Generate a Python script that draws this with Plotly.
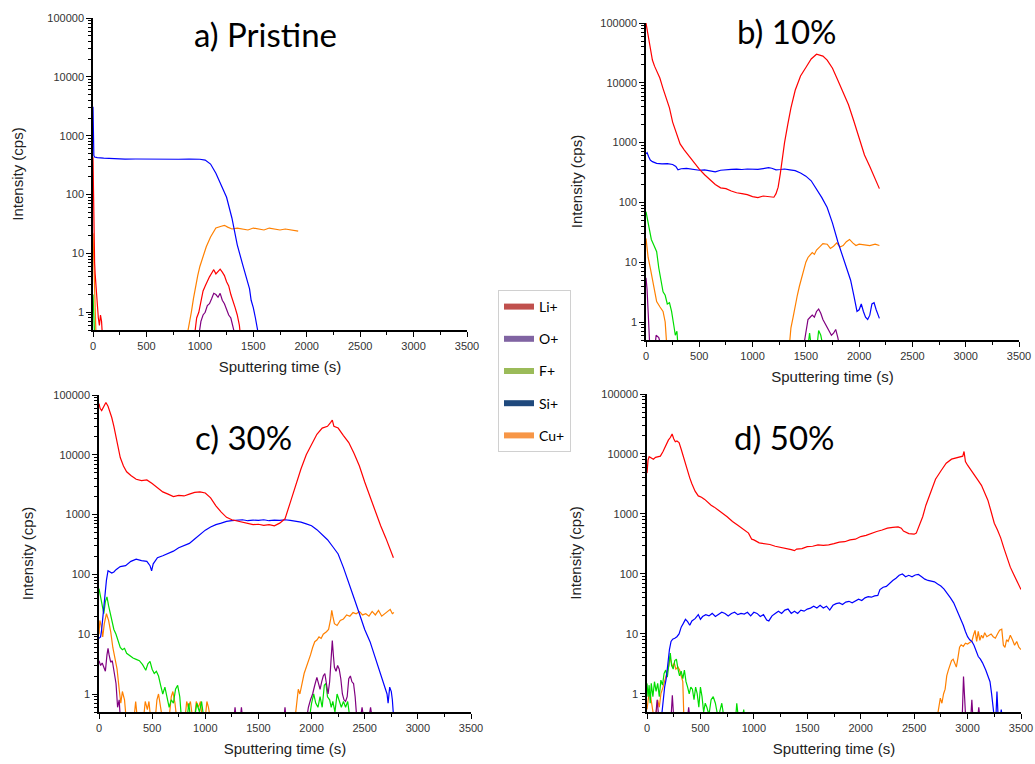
import plotly.graph_objects as go

N = None
# ---------------- Panel a) Pristine ----------------
A_SI_T = [0, 3, 8, 15, 40, 100, 200, 300, 400, 500, 600, 700, 800, 900, 1000, 1050, 1100, 1150, 1200, 1250, 1300, 1350, 1400, 1440, 1465, 1480, 1500, 1520, 1540, 1550]
A_SI_V = [3100, 1200, 460, 435, 425, 415, 405, 400, 402, 398, 400, 396, 398, 400, 398, 385, 330, 230, 140, 90, 40, 14, 6.5, 3.8, 2.5, 1.6, 1.2, 0.8, 0.55, 0.4]
A_CU_T = [0, 5, 12, 20, 28, N, 880, 900, 920, 940, 960, 980, 1000, 1030, 1060, 1100, 1150, 1200, 1230, 1260, 1300, 1350, 1400, 1450, 1500, 1550, 1600, 1650, 1700, 1750, 1800, 1850, 1900, 1920]
A_CU_V = [22, 12, 3, 1.0, 0.4, N, 0.4, 0.6, 1.0, 1.7, 2.8, 4.2, 6, 9, 13, 19, 27, 29, 30, 28, 26, 27, 26, 25, 27, 26, 25, 27, 26, 25, 26, 25, 24, 24]
A_LI_T = [0, 2, 5, 10, 15, 20, 30, 40, 50, 60, 70, 80, 88, N, 950, 970, 990, 1010, 1030, 1050, 1070, 1090, 1110, 1130, 1150, 1170, 1190, 1210, 1230, 1250, 1270, 1290, 1310, 1330, 1350, 1370, 1380]
A_LI_V = [430, 200, 60, 15, 7, 4.5, 2.5, 1.2, 0.8, 0.6, 0.9, 0.7, 0.4, N, 0.4, 0.8, 1.0, 1.5, 2.3, 2.8, 3.4, 4.0, 4.6, 5.3, 4.5, 5.0, 5.4, 4.8, 4.2, 3.3, 2.8, 2.0, 1.6, 1.2, 0.9, 0.6, 0.4]
A_O_T = [990, 1010, 1030, 1050, 1070, 1090, 1110, 1130, 1150, 1170, 1190, 1210, 1230, 1250, 1270, 1290, 1310, 1330]
A_O_V = [0.4, 0.7, 0.9, 1.0, 1.3, 1.4, 1.7, 2.1, 2.0, 1.8, 2.1, 1.6, 1.4, 1.1, 0.9, 0.8, 0.6, 0.4]
A_F_T = [0, 5, 10, 15]
A_F_V = [2.0, 1.1, 0.7, 0.4]

# ---------------- Panel b) 10% ----------------
B_LI_T = [0, 15, 30, 45, 60, 80, 100, 130, 160, 190, 220, 250, 280, 320, 360, 400, 450, 500, 550, 600, 650, 700, 750, 800, 850, 900, 950, 1000, 1050, 1100, 1150, 1200, 1220, 1240, 1260, 1280, 1300, 1330, 1360, 1400, 1450, 1500, 1550, 1600, 1630, 1660, 1700, 1750, 1800, 1850, 1900, 1950, 2000, 2050, 2100, 2150, 2190]
B_LI_V = [100000, 70000, 45000, 30000, 24000, 19000, 16000, 12000, 8000, 5500, 3800, 2200, 1500, 950, 750, 600, 470, 360, 290, 240, 200, 175, 170, 155, 145, 140, 135, 125, 120, 128, 125, 122, 140, 180, 300, 550, 1000, 2000, 3800, 7500, 13000, 18000, 25000, 30000, 29000, 28000, 24000, 17500, 11000, 7000, 4300, 2300, 1200, 620, 400, 240, 170]
B_SI_T = [0, 10, 25, 40, 60, 100, 150, 200, 250, 280, 300, 330, 380, 450, 500, 550, 600, 650, 700, 750, 800, 850, 900, 950, 1000, 1050, 1100, 1150, 1180, 1220, 1260, 1300, 1350, 1400, 1450, 1500, 1550, 1600, 1650, 1700, 1750, 1800, 1850, 1880, 1920, 1950, 1980, 2000, 2020, 2040, 2060, 2080, 2100, 2120, 2140, 2160, 2180, 2190]
B_SI_V = [650, 680, 580, 510, 480, 450, 440, 445, 430, 400, 350, 365, 370, 355, 345, 350, 335, 325, 345, 355, 358, 360, 355, 362, 360, 358, 368, 380, 372, 350, 355, 362, 350, 340, 310, 275, 230, 170, 120, 82, 45, 22, 12, 8, 5, 2.8, 1.5, 1.6, 2.0, 1.5, 1.2, 1.1, 1.3, 2.0, 2.1, 1.6, 1.2, 1.15]
B_CU_T = [0, 10, 20, 40, 60, 80, 100, 130, 160, 180, 195, N, 1345, 1360, 1380, 1400, 1420, 1440, 1460, 1480, 1500, 1520, 1540, 1560, 1580, 1600, 1630, 1660, 1700, 1730, 1760, 1790, 1820, 1850, 1880, 1910, 1940, 1970, 2000, 2050, 2100, 2150, 2190]
B_CU_V = [25, 18, 12, 8, 5, 3, 2.2, 1.8, 1.5, 1.0, 0.4, N, 0.4, 0.8, 1.2, 2.0, 2.8, 4, 5.5, 7, 10, 12, 13, 14.5, 13.5, 16, 18, 20.5, 20, 17, 18.5, 21, 18, 19, 22, 24, 21, 19, 20, 19.5, 19, 20, 19]
B_F_T = [0, 15, 30, 50, 75, 100, 120, 140, 160, 180, 200, 220, 240, 260, 275, 290, 300, N, 1520, 1535, 1550, N, 1605, 1620, 1640, 1660]
B_F_V = [70, 50, 35, 24, 19, 15, 8, 5, 3.2, 2.8, 2.0, 2.1, 1.5, 0.9, 0.6, 0.7, 0.4, N, 0.4, 0.65, 0.4, N, 0.4, 0.72, 0.6, 0.4]
B_O_T = [0, 10, 20, 35, N, 85, 95, 120, 140, N, 1480, 1500, 1520, 1540, 1560, 1580, 1600, 1620, 1640, 1660, 1680, 1700, 1720, 1740, 1760, 1780, 1800, 1815]
B_O_V = [5.5, 3.5, 1.5, 0.4, N, 0.4, 0.6, 0.55, 0.4, N, 0.4, 0.7, 1.1, 1.2, 1.3, 1.2, 1.5, 1.65, 1.4, 1.1, 0.95, 0.8, 0.7, 0.6, 0.65, 0.75, 0.55, 0.4]

# ---------------- Panel c) 30% ----------------
C_LI_T = [0, 10, 25, 45, 65, 85, 100, 120, 140, 160, 180, 200, 230, 260, 300, 350, 400, 450, 500, 550, 600, 650, 700, 750, 800, 850, 900, 950, 1000, 1050, 1100, 1150, 1200, 1250, 1300, 1350, 1400, 1450, 1500, 1550, 1600, 1650, 1700, 1750, 1800, 1850, 1900, 1950, 2000, 2050, 2100, 2150, 2180, 2195, 2210, 2250, 2300, 2350, 2400, 2450, 2500, 2550, 2600, 2650, 2700, 2740, 2770]
C_LI_V = [72000, 60000, 55000, 65000, 75000, 65000, 55000, 42000, 30000, 20000, 13000, 9000, 6500, 5200, 4500, 3900, 3700, 3800, 3300, 2800, 2400, 2200, 2000, 2100, 2050, 2200, 2350, 2400, 2300, 1900, 1400, 1100, 900, 820, 780, 740, 700, 680, 690, 660, 680, 650, 720, 850, 1600, 3200, 5800, 10000, 15000, 22000, 28000, 30000, 35000, 38000, 30000, 28000, 21000, 16000, 10500, 6500, 3500, 2000, 1100, 650, 400, 260, 190]
C_SI_T = [0, 15, 25, 40, 55, 70, 85, 100, 120, 140, 160, 200, 250, 300, 350, 400, 450, 480, 495, 510, 550, 600, 650, 700, 750, 800, 850, 900, 950, 1000, 1050, 1100, 1150, 1200, 1250, 1300, 1350, 1400, 1450, 1500, 1550, 1600, 1650, 1700, 1750, 1800, 1850, 1900, 1950, 2000, 2050, 2100, 2150, 2200, 2250, 2300, 2350, 2400, 2450, 2500, 2550, 2600, 2630, 2660, 2690, 2710, 2720, 2735, 2750, 2760, 2770]
C_SI_V = [8.5, 9, 12, 25, 45, 80, 115, 112, 105, 110, 120, 135, 140, 165, 180, 170, 165, 140, 115, 150, 190, 205, 225, 245, 280, 300, 330, 390, 460, 550, 620, 680, 720, 770, 790, 800, 820, 790, 810, 800, 820, 790, 810, 800, 820, 800, 780, 750, 700, 650, 560, 470, 380, 290, 220, 130, 75, 40, 22, 12, 7.5, 4, 2.8, 1.8, 1.3, 1.0, 0.7, 1.3, 1.1, 0.8, 0.45]
C_CU_T = [0, 8, 20, 35, 50, 70, 90, 110, 130, 150, 170, 190, 205, 220, 240, 255, N, 330, 345, 360, N, 420, 435, 455, 470, 485, N, 530, 545, 560, 575, 595, N, 660, 680, 695, 715, 730, N, 810, 825, 840, 860, 880, N, 900, 915, 935, 955, 970, N, 1000, 1015, 1030, 1045, N, 1845, 1860, 1875, 1890, 1910, 1930, 1950, 1970, 1990, 2010, 2030, 2050, 2070, 2090, 2110, 2140, 2160, 2180, 2190, 2200, 2215, 2240, 2270, 2300, 2330, 2360, 2390, 2420, 2450, 2480, 2510, 2540, 2570, 2600, 2630, 2660, 2690, 2720, 2740, 2760, 2775]
C_CU_V = [10, 17, 14, 9, 15, 22, 17, 11, 6, 4, 2.6, 1.2, 0.7, 1.1, 0.8, 0.4, N, 0.4, 0.75, 0.4, N, 0.4, 0.75, 0.55, 0.75, 0.4, N, 0.4, 0.8, 1.0, 0.6, 0.4, N, 0.4, 0.9, 1.1, 0.7, 0.4, N, 0.4, 0.75, 0.6, 0.75, 0.4, N, 0.4, 0.75, 0.6, 0.75, 0.4, N, 0.4, 0.75, 0.6, 0.4, N, 0.4, 0.8, 1.2, 1.0, 1.5, 2.2, 2.8, 3.5, 4.5, 6, 7.5, 8, 9, 8.5, 10, 11, 12, 18, 25, 20, 15, 14, 17, 18, 21, 20, 23, 22, 24, 21, 22, 20, 24, 21, 25, 20, 22, 24, 26, 22, 23]
C_F_T = [0, 15, 30, 45, 60, 75, 90, 105, 120, 140, 160, 180, 200, 220, 240, 260, 290, 320, 350, 380, 410, 440, 460, 480, 500, 520, 540, 560, 580, 600, 620, 640, 660, 680, 700, 720, 740, 760, 775, N, 830, 845, 860, N, 900, 920, 945, 965, 985, N, 1980, 2000, 2020, 2040, 2060, 2080, 2100, 2120, 2135, 2150, 2170, 2185, 2200, 2220, 2240, 2260, 2280, 2300, 2320, 2340, 2360]
C_F_V = [58, 40, 28, 22, 35, 42, 30, 22, 17, 12, 10, 8, 6, 5.5, 5.8, 4.8, 4.4, 4, 3.8, 3.6, 3.1, 2.5, 3.2, 3.5, 2.6, 2.2, 2.4, 2.0, 1.4, 1.0, 1.3, 0.9, 0.6, 0.8, 0.7, 1.2, 1.4, 0.9, 0.4, N, 0.4, 0.7, 0.4, N, 0.4, 0.7, 0.5, 0.75, 0.4, N, 0.4, 0.7, 1.0, 0.7, 0.6, 0.9, 0.6, 1.4, 1.5, 0.9, 0.8, 0.6, 0.75, 0.5, 1.0, 0.8, 0.6, 0.75, 0.6, 0.75, 0.4]
C_O_T = [0, 15, 30, 45, 60, 75, 85, 95, 110, 125, 140, 160, 175, 190, 200, N, 1270, 1280, 1290, N, 1330, 1340, 1350, N, 1740, 1750, 1760, N, 1955, 1970, 1990, 2010, 2030, 2050, 2065, 2080, 2095, 2110, 2125, 2140, 2155, 2170, 2185, 2195, 2205, 2215, 2230, 2245, 2260, 2275, 2290, 2305, 2320, 2335, 2350, 2365, 2380, 2395, 2410, 2425, N, 2460, 2475, 2490, N, 2540, 2555, 2570]
C_O_V = [3.6, 3.0, 3.3, 2.8, 2.4, 4.5, 5.8, 4.5, 3.4, 3.6, 2.5, 1.5, 0.6, 0.8, 0.4, N, 0.4, 0.6, 0.4, N, 0.4, 0.6, 0.4, N, 0.4, 0.6, 0.4, N, 0.4, 0.6, 0.8, 1.0, 1.4, 1.9, 1.5, 1.2, 1.6, 2.0, 2.2, 1.6, 1.0, 1.6, 4, 7.8, 4.5, 2.8, 2.4, 3.0, 2.6, 1.8, 1.0, 0.8, 0.75, 0.9, 1.8, 2.0, 1.6, 1.5, 0.9, 0.4, N, 0.4, 0.6, 0.4, N, 0.4, 0.6, 0.4]

# ---------------- Panel d) 50% ----------------
D_LI_T = [0, 10, 20, 40, 60, 80, 100, 125, 150, 175, 200, 220, 235, 250, 265, 280, 300, 320, 340, 360, 380, 400, 420, 450, 480, 510, 540, 570, 600, 630, 660, 700, 750, 800, 850, 900, 950, 980, 1000, 1050, 1100, 1150, 1200, 1250, 1300, 1350, 1380, 1400, 1450, 1500, 1550, 1600, 1650, 1700, 1750, 1800, 1850, 1900, 1950, 2000, 2050, 2100, 2150, 2200, 2250, 2300, 2350, 2380, 2400, 2450, 2500, 2520, 2550, 2580, 2610, 2650, 2700, 2750, 2800, 2850, 2900, 2930, 2955, 2967, 2980, 3000, 3030, 3060, 3100, 3130, 3160, 3190, 3220, 3250, 3280, 3310, 3340, 3370, 3400, 3430, 3460, 3500]
D_LI_V = [4800, 8000, 9000, 8600, 8200, 8800, 9000, 9200, 11000, 14000, 17000, 19000, 21500, 18000, 16000, 16500, 15500, 12000, 9000, 6800, 5000, 4000, 3200, 2400, 2000, 1900, 1750, 1550, 1400, 1300, 1200, 1050, 900, 750, 650, 560, 480, 380, 370, 330, 320, 310, 290, 280, 270, 255, 245, 260, 265, 285, 290, 305, 300, 305, 320, 340, 345, 370, 380, 420, 440, 480, 510, 540, 580, 600, 610, 580, 520, 470, 460, 480, 650, 900, 1400, 2200, 3800, 5200, 7000, 8200, 8600, 8800, 9200, 11000, 7500, 6500, 5500, 4600, 3600, 3000, 2300, 1700, 1100, 700, 540, 400, 270, 185, 130, 100, 75, 55]
D_SI_T = [135, 150, 165, 180, 195, 210, 225, 240, 260, 280, 300, 320, 340, 360, 380, 400, 420, 450, 480, 500, 520, 550, 580, 610, 640, 670, 700, 730, 760, 790, 820, 850, 880, 910, 940, 970, 1000, 1030, 1060, 1090, 1120, 1140, 1170, 1200, 1230, 1260, 1290, 1320, 1350, 1380, 1410, 1440, 1470, 1500, 1530, 1560, 1590, 1620, 1650, 1680, 1710, 1740, 1770, 1800, 1830, 1860, 1890, 1920, 1950, 1980, 2010, 2040, 2070, 2100, 2130, 2160, 2180, 2210, 2240, 2270, 2300, 2330, 2360, 2390, 2420, 2450, 2480, 2510, 2540, 2570, 2600, 2630, 2660, 2690, 2720, 2750, 2780, 2810, 2840, 2870, 2900, 2930, 2960, 2980, 3000, 3020, 3040, 3060, 3080, 3100, 3120, 3140, 3170, 3190, 3210, 3225, 3240, 3250, N, 3265, 3275, 3285, N, 3305, 3315, 3325]
D_SI_V = [0.4, 0.8, 1.3, 1.8, 3.5, 5.5, 7.5, 8.2, 8.5, 9, 10, 13, 15, 17.5, 16, 14, 16.5, 18, 21, 17.5, 19.5, 21, 20, 22, 19.5, 21, 23, 22, 20, 22, 23, 21, 22, 21.5, 23, 20, 23, 22, 19.5, 21, 17, 16.5, 20, 22, 24, 22, 25, 26, 22, 24, 22, 25, 24, 26, 27, 29, 27, 30, 27, 29, 25, 30, 32, 33, 31, 34, 35, 33, 36, 38, 36, 40, 42, 41, 43, 44, 55, 60, 62, 70, 78, 85, 95, 100, 90, 95, 90, 96, 98, 90, 82, 78, 77, 74, 68, 63, 56, 48, 40, 33, 25, 19, 14, 11, 9, 8, 7.5, 6.5, 5, 4.2, 3.8, 3.3, 2.5, 2.0, 1.6, 1.0, 0.65, 0.4, N, 0.4, 1.1, 0.45, N, 0.4, 0.55, 0.4]
D_CU_T = [0, 15, 30, 45, 60, 80, 100, 115, 130, 150, 170, 190, 205, 212, 225, 240, 255, 270, 290, 305, 320, 335, 345, N, 2715, 2730, 2745, 2760, 2775, 2790, 2805, 2820, 2835, 2850, 2865, 2880, 2895, 2910, 2925, 2940, 2960, 2980, 3000, 3020, 3040, 3055, 3070, 3085, 3100, 3115, 3130, 3145, 3160, 3180, 3200, 3220, 3240, 3260, 3280, 3300, 3320, 3335, 3350, 3365, 3380, 3400, 3420, 3440, 3460, 3480, 3500]
D_CU_V = [0.55, 0.9, 1.0, 0.7, 0.45, 0.4, 0.8, 0.6, 1.0, 1.3, 1.8, 2.4, 3.0, 4.2, 3.5, 2.8, 3.3, 2.6, 2.8, 2.5, 2.0, 1.6, 0.4, N, 0.4, 0.55, 0.85, 0.7, 1.0, 1.2, 2.0, 2.5, 3.0, 3.6, 3.8, 3.2, 2.8, 4.0, 6.0, 6.6, 6.2, 7.0, 6.8, 7.2, 7.5, 9.5, 11.5, 7.5, 11, 7.8, 9.5, 8.5, 10.5, 9, 9.5, 10, 9, 8.5, 10, 11.5, 12, 6.5, 6, 8, 7.5, 9.5, 8, 6.5, 7.5, 6.0, 5.5]
D_F_T = [0, 10, 20, 30, 40, 55, 70, 85, 100, 115, 130, 145, 160, 175, 190, 205, 218, 230, 245, 260, 275, 290, 305, 320, 335, 350, 365, 380, 395, 410, 425, 440, 455, 470, 485, 500, 515, 530, 545, 560, 580, 600, 620, 640, 660, 680, 700, 720, N, 830, 840, 855, N, 895, 905, 915]
D_F_V = [1.5, 0.9, 1.4, 0.7, 1.5, 0.9, 1.6, 1.1, 1.5, 0.9, 1.7, 1.4, 2.2, 2.5, 1.9, 3.2, 4.8, 3.0, 2.6, 3.6, 3.8, 2.6, 2.0, 2.4, 1.8, 2.5, 1.6, 1.3, 1.0, 1.3, 1.2, 0.8, 1.3, 1.0, 0.6, 1.3, 0.9, 0.5, 0.7, 0.6, 0.45, 0.8, 0.9, 0.7, 0.45, 0.5, 0.7, 0.4, N, 0.4, 0.7, 0.4, N, 0.4, 0.55, 0.4]
D_O_T = [80, 95, 110, N, 225, 237, 250, N, 380, 390, 400, N, 2950, 2962, 2972, 2982, N, 3030, 3040, 3050, N, 3095, 3105, 3115]
D_O_V = [0.4, 0.8, 0.4, N, 0.4, 0.95, 0.4, N, 0.4, 0.6, 0.4, N, 0.4, 1.95, 0.9, 0.4, N, 0.4, 0.8, 0.4, N, 0.4, 0.6, 0.4]

PANEL_TITLES = ["a) Pristine", "b) 10%", "c) 30%", "d) 50%"]
SPECIES = ["Li+", "O+", "F+", "Si+", "Cu+"]
LINE_COLORS = {"Li+": "#ff0000", "O+": "#800080", "F+": "#00dd00", "Si+": "#0000ff", "Cu+": "#ff8000"}
LEGEND_COLORS = {"Li+": "#c0504d", "O+": "#8064a2", "F+": "#9bbb59", "Si+": "#1f497d", "Cu+": "#f79646"}
X_TICKS = [0, 500, 1000, 1500, 2000, 2500, 3000, 3500]

panels = [
    {"Li+": (A_LI_T, A_LI_V), "O+": (A_O_T, A_O_V), "F+": (A_F_T, A_F_V), "Si+": (A_SI_T, A_SI_V), "Cu+": (A_CU_T, A_CU_V)},
    {"Li+": (B_LI_T, B_LI_V), "O+": (B_O_T, B_O_V), "F+": (B_F_T, B_F_V), "Si+": (B_SI_T, B_SI_V), "Cu+": (B_CU_T, B_CU_V)},
    {"Li+": (C_LI_T, C_LI_V), "O+": (C_O_T, C_O_V), "F+": (C_F_T, C_F_V), "Si+": (C_SI_T, C_SI_V), "Cu+": (C_CU_T, C_CU_V)},
    {"Li+": (D_LI_T, D_LI_V), "O+": (D_O_T, D_O_V), "F+": (D_F_T, D_F_V), "Si+": (D_SI_T, D_SI_V), "Cu+": (D_CU_T, D_CU_V)},
]

W, H = 1035, 764
# pixel boxes (x0, x1, ytop, ybottom) of each plot area
boxes = [(93, 467, 18, 330), (646, 1019, 23, 340), (99, 471, 395, 712), (647, 1021, 394, 712)]
title_pos = [(265, 34), (787, 31), (243, 437), (784, 437)]
ystand = [20, 14, 16, 16]

fig = go.Figure()
draw_order = ["Cu+", "F+", "O+", "Si+", "Li+"]
for i, pdata in enumerate(panels):
    sfx = "" if i == 0 else str(i + 1)
    for sp in draw_order:
        t, v = pdata[sp]
        fig.add_trace(go.Scatter(x=t, y=v, mode="lines", showlegend=False,
                                 line=dict(color=LINE_COLORS[sp], width=1.2),
                                 xaxis="x" + sfx, yaxis="y" + sfx, name=sp))

for sp in SPECIES:
    fig.add_trace(go.Scatter(x=[None], y=[None], mode="lines", name=sp, legendgroup=sp,
                             line=dict(color=LEGEND_COLORS[sp], width=6)))

tickfont = dict(family="Liberation Sans, Arial", size=11, color="#333333")
titlefont = dict(family="Liberation Sans, Arial", size=15, color="#222222")
layout = dict(width=W, height=H, margin=dict(l=0, r=0, t=0, b=0),
              paper_bgcolor="white", plot_bgcolor="white")
annotations = []
for i, (x0, x1, yt, yb) in enumerate(boxes):
    sfx = "" if i == 0 else str(i + 1)
    layout["xaxis" + sfx] = dict(
        domain=[x0 / W, x1 / W], anchor="y" + sfx, range=[0, 3500],
        tickvals=X_TICKS, ticks="outside", ticklen=5, tickcolor="black",
        showline=True, linecolor="black", linewidth=1.5, showgrid=False, zeroline=False,
        minor=dict(dtick=250, tick0=0, ticks="outside", ticklen=3, tickcolor="black", showgrid=False),
        tickfont=tickfont, automargin=False,
        title=dict(text="Sputtering time (s)", font=titlefont, standoff=11))
    layout["yaxis" + sfx] = dict(
        domain=[1 - yb / H, 1 - yt / H], anchor="x" + sfx, type="log",
        range=[-0.30103, 5], dtick=1, tickformat="d",
        ticks="outside", ticklen=5, tickcolor="black",
        showline=True, linecolor="black", linewidth=1.5, showgrid=False, zeroline=False,
        minor=dict(dtick="D1", ticks="outside", ticklen=3, tickcolor="black", showgrid=False),
        tickfont=tickfont, automargin=False,
        title=dict(text="Intensity (cps)", font=titlefont, standoff=ystand[i]))
    tx, ty = title_pos[i]
    annotations.append(dict(text=PANEL_TITLES[i], x=tx / W, y=1 - ty / H, xref="paper", yref="paper",
                            showarrow=False, xanchor="center", yanchor="middle",
                            font=dict(family="Lato, Open Sans", size=33, color="black")))

layout["annotations"] = annotations
layout["legend"] = dict(x=498 / W, y=1 - 290 / H, xanchor="left", yanchor="top",
                        bordercolor="#d0d0d0", borderwidth=1, bgcolor="white",
                        font=dict(family="Lato, Open Sans", size=14, color="black"),
                        traceorder="grouped", tracegroupgap=11, itemwidth=30)
fig.update_layout(**layout)
fig.write_html("out.html", config={"displayModeBar": False},
               post_script="document.body.style.margin='0px';")
